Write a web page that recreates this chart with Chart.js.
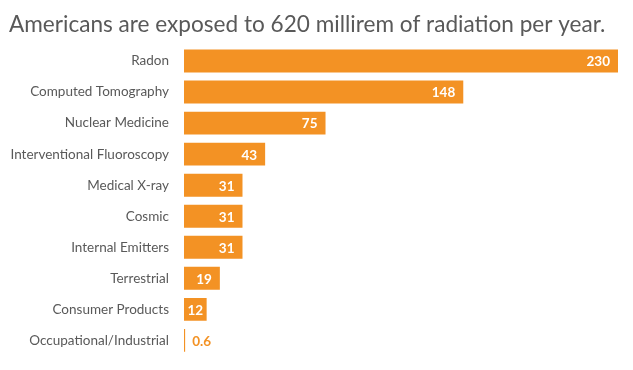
<!DOCTYPE html>
<html>
<head>
<meta charset="utf-8">
<script src="https://cdn.jsdelivr.net/npm/chart.js@4/dist/chart.umd.min.js"></script>
<style>
html,body{margin:0;padding:0;background:#fff;overflow:hidden;}
#wrap{width:633px;height:370px;overflow:hidden;}
</style>
</head>
<body>
<div id="wrap"><canvas id="c" width="633" height="379"></canvas></div>
<script>
const categories = ["Radon","Computed Tomography","Nuclear Medicine","Interventional Fluoroscopy","Medical X-ray","Cosmic","Internal Emitters","Terrestrial","Consumer Products","Occupational/Industrial"];
const values = [230,148,75,43,31,31,31,19,12,0.6];
const valueLabels = ["230","148","75","43","31","31","31","19","12","0.6"];
const titleText = "Americans are exposed to 620 millirem of radiation per year.";

const ORANGE = "#F39224";
const GREY = "#595959";
const FONT = "Lato, 'Open Sans', sans-serif";

const labelPlugin = {
  id: 'barLabels',
  afterDatasetsDraw(chart) {
    const ctx = chart.ctx;
    const meta = chart.getDatasetMeta(0);
    ctx.save();
    ctx.font = "bold 13.5px " + FONT;
    ctx.textBaseline = "middle";
    meta.data.forEach((bar, i) => {
      const v = values[i];
      const txt = valueLabels[i];
      if (v < 5) {
        ctx.fillStyle = ORANGE;
        ctx.textAlign = "left";
        ctx.fillText(txt, bar.x + 7, bar.y + 1);
      } else {
        const w = ctx.measureText(txt).width;
        const bw = bar.x - bar.base;
        const pad = Math.min(8, (bw - w) / 2);
        ctx.fillStyle = "#ffffff";
        ctx.textAlign = "right";
        ctx.fillText(txt, bar.x - pad, bar.y + 1);
      }
    });
    ctx.restore();
  }
};

new Chart(document.getElementById('c'), {
  type: 'bar',
  data: {
    labels: categories,
    datasets: [{
      data: values,
      backgroundColor: ORANGE,
      borderWidth: 0,
      barPercentage: 0.82,
      categoryPercentage: 0.9,
      minBarLength: 1
    }]
  },
  options: {
    indexAxis: 'y',
    responsive: false,
    animation: false,
    devicePixelRatio: 1,
    layout: { padding: { left: 9, right: 15, top: 0, bottom: 4 } },
    plugins: {
      legend: { display: false },
      tooltip: { enabled: false },
      title: {
        display: true,
        text: titleText,
        align: 'start',
        color: GREY,
        font: { family: FONT, size: 22.6, weight: 'normal' },
        padding: { top: 11, bottom: 7.4 }
      }
    },
    scales: {
      x: { display: false, min: 0, max: 230 },
      y: {
        grid: { display: false, drawTicks: false },
        border: { display: false },
        ticks: { color: GREY, font: { family: FONT, size: 13.5 }, padding: 15, autoSkip: false },
        afterFit(scale) { scale.width = 175; }
      }
    }
  },
  plugins: [labelPlugin]
});
</script>
</body>
</html>
